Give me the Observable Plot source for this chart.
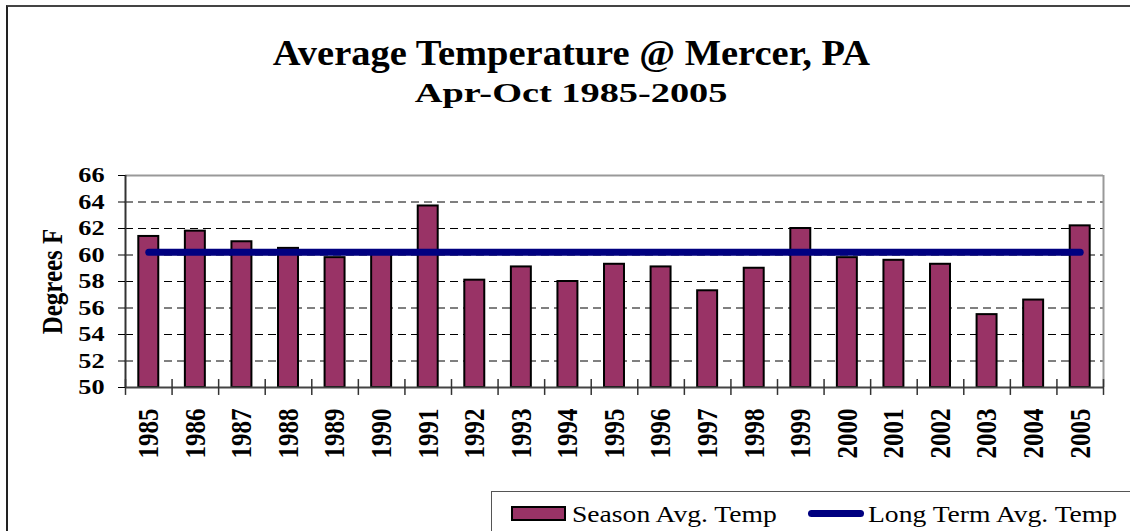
<!DOCTYPE html>
<html><head><meta charset="utf-8">
<script src="https://cdn.jsdelivr.net/npm/d3@7"></script>
<script src="https://cdn.jsdelivr.net/npm/@observablehq/plot@0.6"></script>
<style>
html,body{margin:0;padding:0;background:#fff;width:1130px;height:531px;overflow:hidden;font-family:"Liberation Serif","Times New Roman",serif;}
#wrap{position:relative;width:1130px;height:531px;overflow:hidden;}
#border{position:absolute;left:6px;top:5px;width:1300px;height:700px;border-left:2px solid #222;border-top:2px solid #444;}
.ttl{position:absolute;left:0;width:1142px;text-align:center;font-weight:bold;color:#000;white-space:nowrap;}
.ttl span{display:inline-block;transform-origin:center;}
#t1{top:34px;font-size:35px;line-height:40px;}
#t1 span{transform:scaleX(1.10);}
#t2{top:78px;font-size:27px;line-height:30px;}
#t2 span{transform:scaleX(1.42);}
#chart{position:absolute;left:0;top:150px;}
#legend{position:absolute;left:491px;top:491px;width:800px;height:80px;border:1px solid #555;background:#fff;}
.lg{position:absolute;top:9px;font-size:23px;line-height:27px;white-space:nowrap;transform:scaleX(1.2);transform-origin:left center;color:#000;}
#sw1{position:absolute;left:19px;top:14px;width:51px;height:11px;background:#993366;border:2px solid #000;}
#sw2{position:absolute;left:316px;top:18px;width:56px;height:7px;border-radius:3.5px;background:#000080;}
</style></head>
<body><div id="wrap">
<div id="border"></div>
<div class="ttl" id="t1"><span>Average Temperature @ Mercer, PA</span></div>
<div class="ttl" id="t2"><span>Apr-Oct 1985-2005</span></div>
<div id="chart"></div>
<div id="legend">
  <div id="sw1"></div><div class="lg" style="left:80px">Season Avg. Temp</div>
  <div id="sw2"></div><div class="lg" style="left:376px">Long Term Avg. Temp</div>
</div>
</div>
<script>
const years = [1985,1986,1987,1988,1989,1990,1991,1992,1993,1994,1995,1996,1997,1998,1999,2000,2001,2002,2003,2004,2005];
const seasonAvgTemp = [61.4,61.8,61.0,60.5,59.8,60.1,63.7,58.1,59.1,58.0,59.3,59.1,57.3,59.0,62.0,59.8,59.6,59.3,55.5,56.6,62.2];
const longTermAvgTemp = [60.2,60.2,60.2,60.2,60.2,60.2,60.2,60.2,60.2,60.2,60.2,60.2,60.2,60.2,60.2,60.2,60.2,60.2,60.2,60.2,60.2];
const yTicks = [50,52,54,56,58,60,62,64,66];
const gridTicks = [52,54,56,58,60,62,64];
const yLabel = "Degrees F";

const data = years.map((year, i) => ({i, year, season: seasonAvgTemp[i], longTerm: longTermAvgTemp[i]}));
const bounds = d3.range(years.length + 1);
const font = "Liberation Serif, Times New Roman, serif";

const chart = Plot.plot({
  width: 1130, height: 330,
  marginTop: 25, marginBottom: 93, marginLeft: 125, marginRight: 27,
  style: {fontFamily: font, color: "#000", background: "transparent", overflow: "visible"},
  x: {domain: [0, years.length], axis: null},
  y: {domain: [50, 66]},
  marks: [
    Plot.ruleY(gridTicks, {stroke: "#000", strokeDasharray: "8,5", strokeWidth: 1}),
    Plot.ruleY([66], {stroke: "#999", strokeWidth: 2}),
    Plot.ruleX([years.length], {stroke: "#999", strokeWidth: 2}),
    Plot.rect(data, {x1: "i", x2: d => d.i + 1, y1: 50, y2: "season", insetLeft: 13.3, insetRight: 13.3,
      fill: "#993366", stroke: "#000", strokeWidth: 2}),
    Plot.ruleX([0], {stroke: "#333", strokeWidth: 2}),
    Plot.ruleY([50], {stroke: "#444", strokeWidth: 2}),
    Plot.ruleX(bounds, {y1: 49.4, y2: 50.6, stroke: "#333", strokeWidth: 1.5}),
    Plot.axisY({ticks: yTicks, tickSize: 7, tickPadding: 14, fontSize: 21, fontWeight: "bold", label: null}),
    Plot.line(data, {x: d => d.i + 0.5, y: "longTerm", stroke: "#000080", strokeWidth: 7, strokeLinecap: "round"}),
    Plot.text(data, {x: d => d.i + 0.5, y: 50, text: d => String(d.year), rotate: -90, textAnchor: "end",
      dy: 21, fontSize: 25, fontWeight: "bold"}),
    Plot.text([yLabel], {frameAnchor: "left", text: d => d, textAnchor: "middle", dx: -73, rotate: -90,
      fontSize: 25, fontWeight: "bold"})
  ]
});

function stretch(svg, sel, sx, sy) {
  svg.querySelectorAll(sel).forEach(t => {
    const tr = t.getAttribute("transform") || "";
    const s = /rotate/.test(tr) ? `scale(1,${sy})` : `scale(${sx},1)`;
    if (tr) t.setAttribute("transform", tr + " " + s);
    else {
      const x = parseFloat(t.getAttribute("x")) || 0, y = parseFloat(t.getAttribute("y")) || 0;
      t.setAttribute("transform", `translate(${x},${y}) ${s} translate(${-x},${-y})`);
    }
  });
}
stretch(chart, "text", 1.25, 1.17);
document.getElementById("chart").appendChild(chart);
</script>
</body></html>
